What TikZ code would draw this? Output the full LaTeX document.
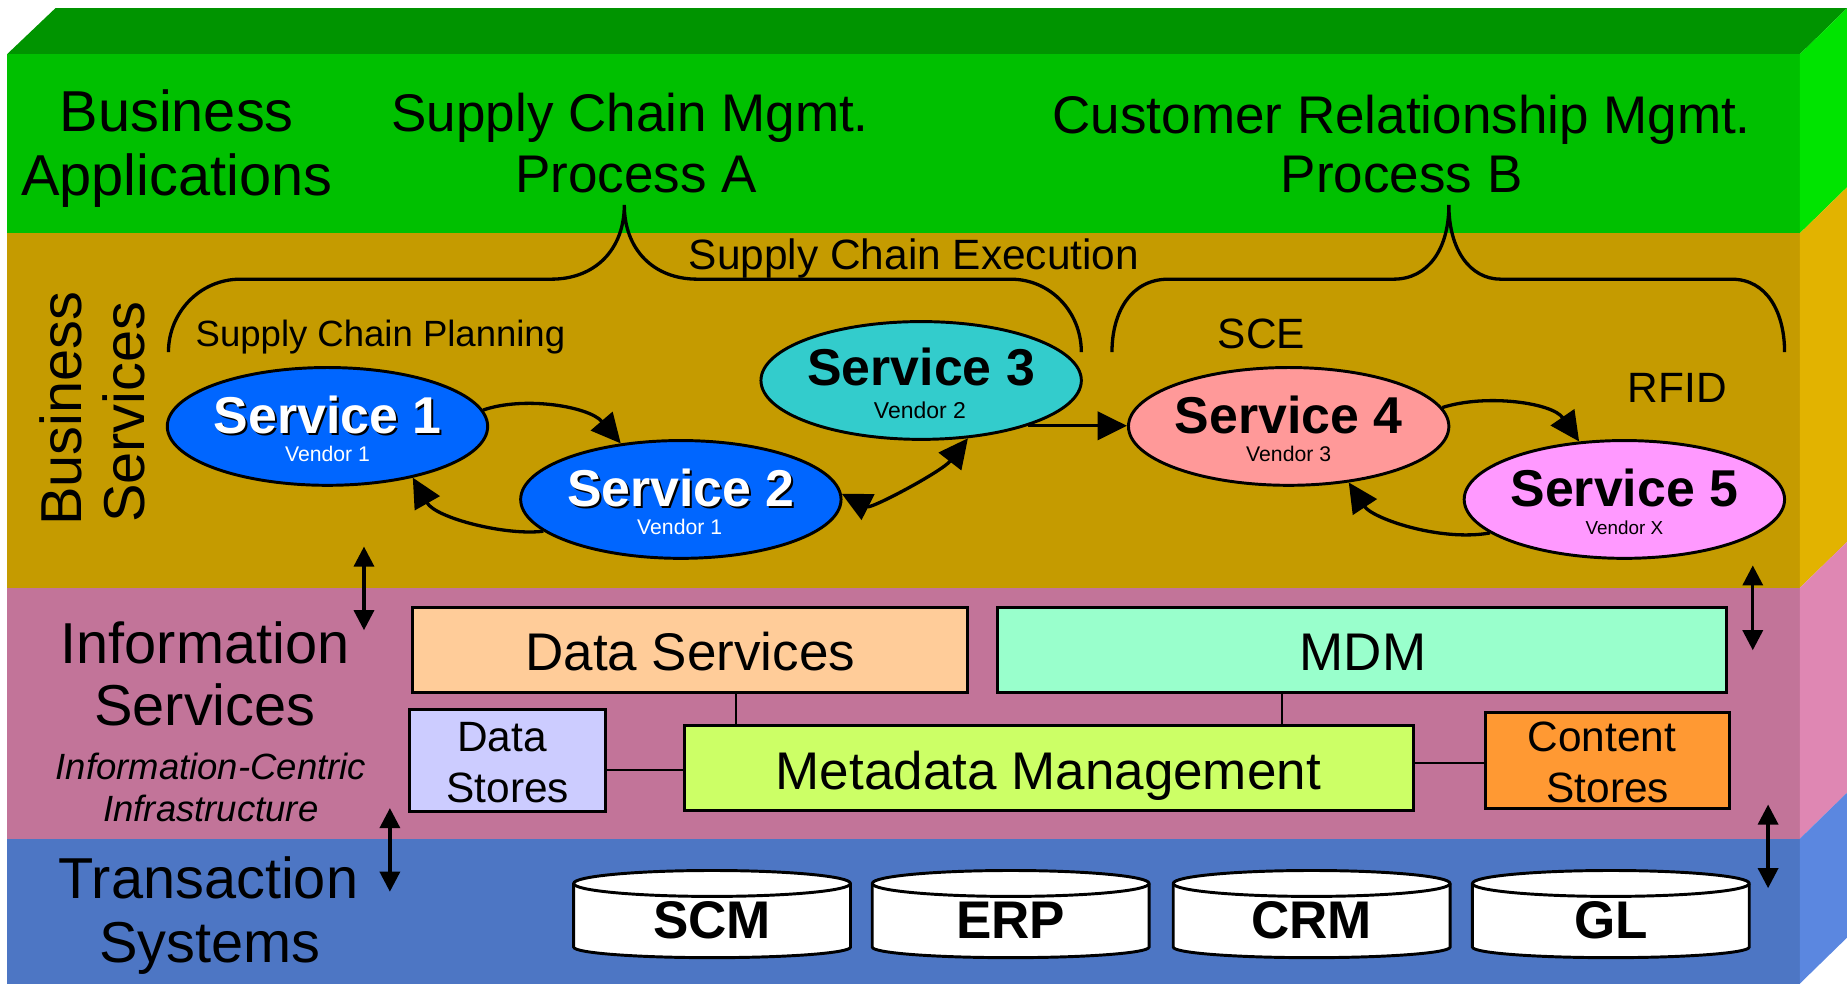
\documentclass[tikz,border=0pt]{standalone}
\usepackage{fontspec}
\setmainfont{Liberation Sans}
\usetikzlibrary{shapes.geometric,arrows.meta}
\definecolor{topgreen}{HTML}{009400}
\definecolor{frontgreen}{HTML}{00C000}
\definecolor{sidegreen}{HTML}{00E400}
\definecolor{tanfront}{HTML}{C59B00}
\definecolor{tanside}{HTML}{E2B300}
\definecolor{pinkfront}{HTML}{C27499}
\definecolor{pinkside}{HTML}{DF87B3}
\definecolor{bluefront}{HTML}{4D76C4}
\definecolor{blueside}{HTML}{5B87E0}
\definecolor{svcblue}{HTML}{0066FF}
\definecolor{svccyan}{HTML}{33CCCC}
\definecolor{svcred}{HTML}{FF9999}
\definecolor{svcpink}{HTML}{FF99FF}
\definecolor{dsfill}{HTML}{FFCC99}
\definecolor{mdmfill}{HTML}{99FFCC}
\definecolor{dstfill}{HTML}{CCCCFF}
\definecolor{metafill}{HTML}{CCFF66}
\definecolor{cstfill}{HTML}{FF9933}
\begin{document}
\begin{tikzpicture}[x=1pt,y=-1pt,
  lay/.style={font=\fontsize{49}{55}\selectfont, anchor=base, inner sep=0pt},
  head/.style={font=\fontsize{45}{50}\selectfont, anchor=base, inner sep=0pt},
  sub/.style={font=\fontsize{36}{40}\selectfont, anchor=base, inner sep=0pt},
  plan/.style={font=\fontsize{31}{35}\selectfont, anchor=base, inner sep=0pt},
  ital/.style={font=\fontsize{31}{35}\selectfont\itshape, anchor=base, inner sep=0pt},
  svc/.style={ellipse, draw=black, line width=2.5pt, minimum width=272pt, minimum height=100pt, inner sep=0pt},
  svct/.style={font=\fontsize{44}{48}\selectfont\bfseries, anchor=base, inner sep=0pt},
  vend/.style={anchor=base, inner sep=0pt},
  box/.style={rectangle, draw=black, line width=2.5pt, inner sep=0pt},
  conn/.style={line width=1.8pt},
  arr/.style={line width=2.8pt, -{Triangle[length=25pt,width=24pt]}},
  dblarr/.style={line width=2.8pt, {Triangle[length=17pt,width=17pt]}-{Triangle[length=17pt,width=17pt]}},
  bracel/.style={line width=2.8pt},
  cyltext/.style={font=\fontsize{45}{50}\selectfont\bfseries, anchor=base, inner sep=0pt}
]
\useasboundingbox (0,0) rectangle (1568,835);
% ---- 3D layer block ----
\fill[topgreen] (6,46) -- (47,7) -- (1568,7) -- (1528,46) -- cycle;
\fill[frontgreen] (6,46) rectangle (1528,198);
\fill[tanfront] (6,198) rectangle (1528,499);
\fill[pinkfront] (6,499) rectangle (1528,712);
\fill[bluefront] (6,712) rectangle (1528,835);
\fill[sidegreen] (1528,46) -- (1568,7) -- (1568,159) -- (1528,198) -- cycle;
\fill[tanside] (1528,198) -- (1568,159) -- (1568,460) -- (1528,499) -- cycle;
\fill[pinkside] (1528,499) -- (1568,460) -- (1568,673) -- (1528,712) -- cycle;
\fill[blueside] (1528,712) -- (1568,673) -- (1568,796) -- (1528,835) -- cycle;

% ---- layer titles ----
\node[lay] (ba1) at (150,112) {Business};
\node[lay] (ba2) at (150,166) {Applications};
\node[lay, rotate=90] (bs1) at (69,347) {Business};
\node[lay, rotate=90] (bs2) at (123,350) {Services};
\node[lay] (is1) at (174,563) {Information};
\node[lay] (is2) at (174,616) {Services};
\node[ital] (ic1) at (179,662) {Information-Centric};
\node[ital] (ic2) at (179,697) {Infrastructure};
\node[lay] (ts1) at (177,763) {Transaction};
\node[lay] (ts2) at (178,817) {Systems};

% ---- processes ----
\node[head] (pa1) at (535,112) {Supply Chain Mgmt.};
\node[head] (pa2) at (540,163) {Process A};
\node[head] (pb1) at (1190,113) {Customer Relationship Mgmt.};
\node[head] (pb2) at (1190,163) {Process B};

% ---- braces ----
\draw[bracel] (143,299) .. controls (143,265) and (170,237) .. (204,237) -- (468,237)
  .. controls (505,237) and (530,212) .. (530,174)
  .. controls (530,212) and (555,237) .. (592,237) -- (858,237)
  .. controls (892,237) and (918,265) .. (918,299);
\draw[bracel] (944,299) .. controls (944,265) and (960,237) .. (992,237) -- (1183,237)
  .. controls (1212,237) and (1230,212) .. (1230,174)
  .. controls (1230,212) and (1248,237) .. (1274,237) -- (1470,237)
  .. controls (1500,237) and (1515,265) .. (1515,299);

\node[sub] (sce) at (776,229) {Supply Chain Execution};
\node[plan] (scp) at (323,294) {Supply Chain Planning};
\node[sub] (scee) at (1071,296) {SCE};
\node[sub] (rfid) at (1424,342) {RFID};

% ---- services ----
\node[svc, fill=svcblue] (s1) at (278,362) {};
\node[svc, fill=svcblue] (s2) at (578,424) {};
\node[svc, fill=svccyan] (s3) at (782,323) {};
\node[svc, fill=svcred] (s4) at (1094,362) {};
\node[svc, fill=svcpink] (s5) at (1379,424) {};

\node[svct, text=black] (s1sh) at (279.8,369.8) {Service 1};
\node[svct, text=white] (s1t) at (278,368) {Service 1};
\node[vend, font=\fontsize{18}{20}\selectfont, text=white] (s1v) at (278,392) {Vendor 1};
\node[svct, text=black] (s2sh) at (579.8,431.8) {Service 2};
\node[svct, text=white] (s2t) at (578,430) {Service 2};
\node[vend, font=\fontsize{18}{20}\selectfont, text=white] (s2v) at (577,454) {Vendor 1};
\node[svct] (s3t) at (782,327) {Service 3};
\node[vend, font=\fontsize{19.5}{22}\selectfont] (s3v) at (781,355) {Vendor 2};
\node[svct] (s4t) at (1094,368) {Service 4};
\node[vend, font=\fontsize{18}{20}\selectfont] (s4v) at (1094,392) {Vendor 3};
\node[svct] (s5t) at (1379,430) {Service 5};
\node[vend, font=\fontsize{16}{18}\selectfont] (s5v) at (1379,454) {Vendor X};

% ---- service connectors ----
\draw[arr] (s1.6) .. controls (445,336) and (500,345) .. (s2.137);
\draw[arr] (s2.193) .. controls (430,455) and (370,440) .. (s1.-31);
\draw[line width=2.8pt, {Triangle[length=25pt,width=24pt]}-{Triangle[length=25pt,width=24pt]}]
  (s2.2) .. controls (740,432) and (800,400) .. (s3.-51);
\draw[arr] (s3.-23) -- (s3.-23 -| s4.west);
\draw[arr] (s4.7) .. controls (1262,334) and (1318,342) .. (s5.128);
\draw[arr] (s5.194) .. controls (1222,460) and (1165,440) .. (s4.-43);

% ---- vertical double arrows ----
\coordinate (v1a) at (309,464); \coordinate (v1b) at (309,535);
\coordinate (v2a) at (331,686); \coordinate (v2b) at (331,757);
\coordinate (v3a) at (1488,480); \coordinate (v3b) at (1488,552);
\coordinate (v4a) at (1501,683); \coordinate (v4b) at (1501,754);
\draw[dblarr] (v1a) -- (v1b);
\draw[dblarr] (v2a) -- (v2b);
\draw[dblarr] (v3a) -- (v3b);
\draw[dblarr] (v4a) -- (v4b);

% ---- information services boxes ----
\node[box, fill=dsfill, minimum width=471pt, minimum height=72pt] (ds) at (585.5,552) {};
\node[box, fill=mdmfill, minimum width=619pt, minimum height=72pt] (mdm) at (1156.5,552) {};
\node[box, fill=dstfill, minimum width=166pt, minimum height=87pt] (dst) at (431,645.5) {};
\node[box, fill=metafill, minimum width=619pt, minimum height=72pt] (meta) at (890.5,652) {};
\node[box, fill=cstfill, minimum width=207pt, minimum height=81pt] (cst) at (1364.5,645.5) {};

\node[head] (dsT) at (586,569) {Data Services};
\node[head] (mdmT) at (1157,569) {MDM};
\node[sub] (dstT1) at (426,638) {Data};
\node[sub] (dstT2) at (431,681) {Stores};
\node[head] (metaT) at (890,670) {Metadata Management};
\node[sub] (cstT1) at (1360,638) {Content};
\node[sub] (cstT2) at (1365,681) {Stores};

\coordinate (xA) at (625,0);
\coordinate (xB) at (1088,0);
\coordinate (yC) at (0,654);
\coordinate (yD) at (0,648);
\draw[conn] (ds.south -| xA) -- (meta.north -| xA);
\draw[conn] (mdm.south -| xB) -- (meta.north -| xB);
\draw[conn] (dst.east |- yC) -- (meta.west |- yC);
\draw[conn] (meta.east |- yD) -- (cst.west |- yD);

% ---- transaction systems (cylinders) ----
\foreach \cx/\lab in {604.5/SCM, 858/ERP, 1113.5/CRM, 1367.5/GL} {
  \draw[line width=2.5pt, fill=white] (\cx-117.5,750) -- (\cx-117.5,804)
    arc[start angle=180, end angle=360, x radius=117.5pt, y radius=9pt]
    -- (\cx+117.5,750)
    arc[start angle=0, end angle=180, x radius=117.5pt, y radius=11pt] -- cycle;
  \draw[line width=2.5pt] (\cx-117.5,750)
    arc[start angle=180, end angle=360, x radius=117.5pt, y radius=11pt];
  \node[cyltext] (cyl\lab) at (\cx,797) {\lab};
}
\end{tikzpicture}
\end{document}
